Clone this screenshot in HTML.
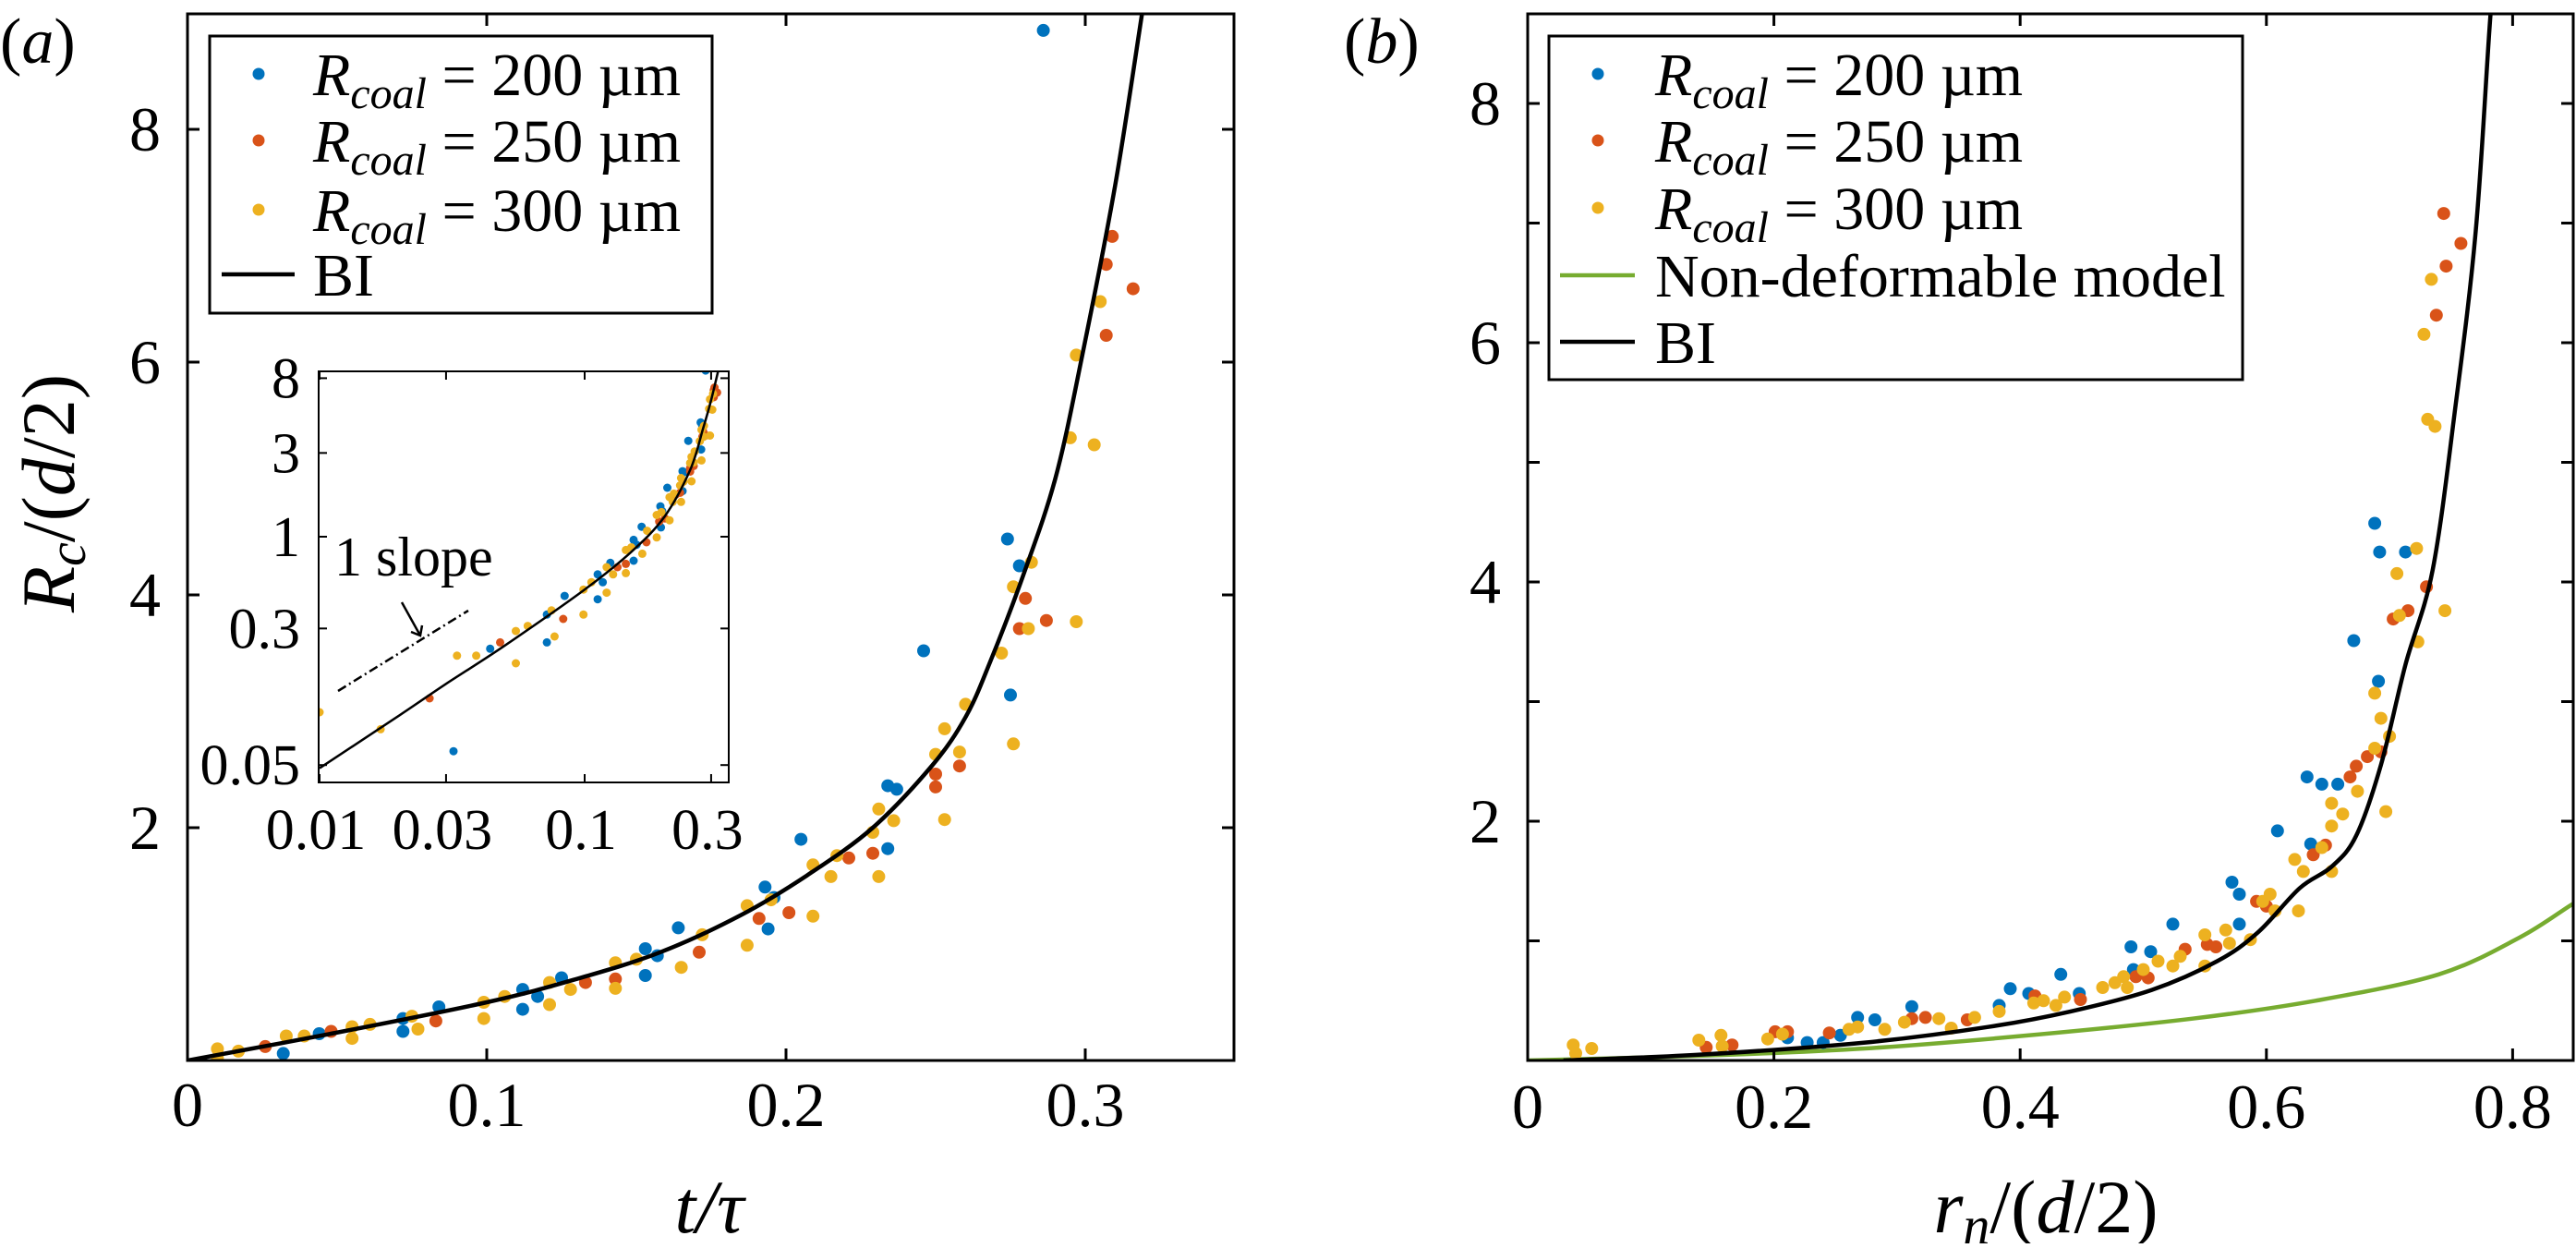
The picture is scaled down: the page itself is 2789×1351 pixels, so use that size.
<!DOCTYPE html>
<html><head><meta charset="utf-8">
<style>
html,body{margin:0;padding:0;background:#fff;}
svg, svg text{font-family:"Liberation Serif","DejaVu Serif",serif;}
</style></head>
<body>
<svg id="fig" width="2789" height="1346" viewBox="0 0 2789 1346" font-family="Liberation Serif, DejaVu Serif, serif" xmlns="http://www.w3.org/2000/svg">
<defs>
<clipPath id="clipA"><rect x="203" y="15" width="1133" height="1133"/></clipPath>
<clipPath id="clipI"><rect x="345" y="402" width="444" height="445"/></clipPath>
<clipPath id="clipB"><rect x="1654" y="15" width="1132" height="1133"/></clipPath>
</defs>
<g id="gA"></g>
<g id="gB"></g>
</svg>
<script>
// ---------- Panel (a) data: t/tau vs Rc/(d/2) ----------
const aBlueX = [0.032,0.044,0.072,0.072,0.084,0.112,0.112,0.117,0.125,0.153,0.153,0.157,0.164,0.193,0.194,0.196,0.205,0.234,0.237,0.234,0.246,0.274,0.275,0.278,0.286];
const aBlueY = [0.06,0.23,0.25,0.36,0.46,0.61,0.44,0.55,0.71,0.96,0.73,0.90,1.14,1.49,1.13,1.40,1.90,2.36,2.33,1.82,3.52,4.48,3.14,4.25,8.85];
const aRedX = [0.026,0.048,0.083,0.133,0.143,0.171,0.191,0.201,0.221,0.229,0.250,0.250,0.258,0.280,0.278,0.287,0.309,0.307,0.316,0.307];
const aRedY = [0.12,0.25,0.34,0.67,0.70,0.93,1.22,1.27,1.74,1.78,2.46,2.35,2.53,3.97,3.71,3.78,7.08,6.84,6.63,6.23];
const aYelX = [0.010,0.010,0.017,0.033,0.039,0.055,0.055,0.061,0.075,0.077,0.099,0.099,0.106,0.121,0.121,0.128,0.143,0.143,0.150,0.165,0.172,0.187,0.187,0.195,0.209,0.209,0.215,0.217,0.229,0.231,0.231,0.236,0.250,0.253,0.253,0.258,0.260,0.272,0.276,0.276,0.281,0.282,0.297,0.305,0.297,0.295,0.303];
const aYelY = [0.10,0.02,0.08,0.21,0.21,0.19,0.29,0.31,0.38,0.27,0.50,0.36,0.55,0.67,0.48,0.61,0.84,0.62,0.87,0.80,1.08,1.33,0.99,1.38,1.68,1.24,1.58,1.76,1.96,2.16,1.58,2.06,2.63,2.85,2.07,2.65,3.06,3.50,2.72,4.07,3.71,4.28,3.77,6.52,6.06,5.35,5.29];
const aBIX = [0,0.048,0.1,0.13,0.158,0.185,0.207,0.229,0.249,0.26,0.268,0.279,0.29,0.299,0.31,0.319];
const aBIY = [0,0.23,0.50,0.70,0.93,1.25,1.59,2.0,2.54,2.95,3.41,4.15,5.0,6.06,7.52,9.0];
const insBIX = [0.01,0.02,0.03,0.05,0.1,0.15,0.2,0.25,0.28,0.3,0.32];
const insBIY = [0.048,0.096,0.145,0.24,0.5,0.82,1.3,2.4,4.15,6.0,9.0];
const aXTicks = [0,0.1,0.2,0.3];
const aXTickLabels = ["0","0.1","0.2","0.3"];
const aYTicks = [2,4,6,8];
const aYTickLabels = ["2","4","6","8"];
const insXTicks = [0.01,0.03,0.1,0.3];
const insXTickLabels = ["0.01","0.03","0.1","0.3"];
const insYTicks = [0.05,0.3,1,3,8];
const insYTickLabels = ["0.05","0.3","1","3","8"];
// ---------- Panel (b) data: rn/(d/2) vs Rc/(d/2) ----------
const bBlueX = [0.211,0.227,0.240,0.254,0.268,0.282,0.312,0.383,0.392,0.407,0.433,0.448,0.490,0.492,0.506,0.524,0.572,0.578,0.578,0.609,0.633,0.645,0.658,0.636,0.671,0.691,0.688,0.692,0.713];
const bBlueY = [0.19,0.15,0.15,0.21,0.36,0.34,0.45,0.46,0.60,0.56,0.72,0.56,0.95,0.76,0.91,1.14,1.49,1.39,1.14,1.92,2.37,2.31,2.31,1.81,3.51,3.17,4.49,4.25,4.25];
const bRedX = [0.145,0.166,0.201,0.211,0.245,0.312,0.323,0.357,0.412,0.449,0.494,0.504,0.534,0.552,0.559,0.592,0.600,0.638,0.648,0.668,0.673,0.682,0.693,0.703,0.715,0.730,0.744,0.758,0.746,0.738];
const bRedY = [0.11,0.13,0.24,0.24,0.23,0.35,0.36,0.34,0.54,0.51,0.70,0.69,0.93,0.97,0.95,1.33,1.29,1.72,1.80,2.37,2.46,2.54,2.58,3.69,3.76,3.96,7.08,6.83,6.64,6.23];
const bYelX = [0.037,0.039,0.052,0.139,0.157,0.158,0.195,0.207,0.261,0.268,0.290,0.306,0.334,0.344,0.363,0.383,0.411,0.419,0.429,0.436,0.467,0.477,0.484,0.487,0.500,0.512,0.524,0.530,0.550,0.550,0.567,0.570,0.587,0.597,0.603,0.607,0.626,0.623,0.630,0.645,0.653,0.653,0.662,0.653,0.674,0.688,0.693,0.688,0.700,0.697,0.706,0.708,0.723,0.745,0.734,0.728,0.731,0.737,0.722];
const bYelY = [0.13,0.06,0.10,0.17,0.21,0.12,0.18,0.22,0.26,0.28,0.26,0.32,0.35,0.27,0.36,0.41,0.48,0.50,0.46,0.53,0.61,0.65,0.70,0.61,0.76,0.83,0.79,0.87,1.05,0.79,1.09,0.98,1.01,1.33,1.39,1.25,1.25,1.68,1.58,1.78,1.96,1.58,2.06,2.15,2.25,2.61,2.86,3.07,2.71,2.08,4.07,3.72,3.50,3.76,6.53,6.07,5.36,5.30,4.28];
const bBIX = [0.029,0.142,0.274,0.374,0.441,0.507,0.560,0.593,0.627,0.653,0.673,0.693,0.713,0.735,0.753,0.770,0.782,0.79];
const bBIY = [0,0.05,0.15,0.28,0.41,0.59,0.83,1.07,1.44,1.62,1.88,2.47,3.31,4.1,5.42,6.93,8.74,9.6];
const bNDX = [0,0.142,0.274,0.407,0.540,0.640,0.740,0.806,0.849,0.86];
const bNDY = [0,0.04,0.10,0.21,0.35,0.50,0.72,1.03,1.31,1.36];
const bXTicks = [0,0.2,0.4,0.6,0.8];
const bXTickLabels = ["0","0.2","0.4","0.6","0.8"];
const bYTicks = [1,2,3,4,5,6,7,8];
const bYTickLabels = ["","2","","4","","6","","8"];

const NS = "http://www.w3.org/2000/svg";
const FONT = '"Liberation Serif","DejaVu Serif",serif';
const C = {blue:"#0072BD", red:"#D95319", yel:"#EDB120", green:"#77AC30"};
function mk(parent, tag, attrs, text){
  const e = document.createElementNS(NS, tag);
  for (const k in attrs) e.setAttribute(k, attrs[k]);
  if (tag==='text') e.style.fontFamily = FONT;
  if (text !== undefined) e.textContent = text;
  parent.appendChild(e);
  return e;
}
const axA = {x:v=>203+v*3240, y:v=>1148-v*126};
const axI = {x:v=>633+Math.log10(v/0.1)*287, y:v=>581-Math.log10(v)*190};
const axB = {x:v=>1654+v*1333, y:v=>1148-v*129.5};

function scatter(g, ax, xs, ys, color, r, name){
  for (let i=0;i<xs.length;i++){
    if (ax===axI && (xs[i]<=0 || ys[i]<=0)) continue;
    const c = mk(g,'circle',{cx:ax.x(xs[i]).toFixed(1), cy:ax.y(ys[i]).toFixed(1), r:r, fill:color});
    
    
  }
}
function line(g, ax, xs, ys, color, w, name){
  const P=[];
  for (let i=0;i<xs.length;i++){
    if (ax===axI && (xs[i]<=0 || ys[i]<=0)) continue;
    P.push([ax.x(xs[i]), ax.y(ys[i])]);
  }
  let d = 'M'+P[0][0].toFixed(1)+','+P[0][1].toFixed(1);
  for (let i=0;i<P.length-1;i++){
    const p0=P[Math.max(i-1,0)], p1=P[i], p2=P[i+1], p3=P[Math.min(i+2,P.length-1)];
    const c1=[p1[0]+(p2[0]-p0[0])/6, p1[1]+(p2[1]-p0[1])/6];
    const c2=[p2[0]-(p3[0]-p1[0])/6, p2[1]-(p3[1]-p1[1])/6];
    d += 'C'+c1[0].toFixed(1)+','+c1[1].toFixed(1)+' '+c2[0].toFixed(1)+','+c2[1].toFixed(1)+' '+p2[0].toFixed(1)+','+p2[1].toFixed(1);
  }
  const p = mk(g,'path',{d:d, fill:'none', stroke:color, 'stroke-width':w, 'stroke-linejoin':'round'});
  
  
}

// ================= Panel A =================
const gA = document.getElementById('gA');
const plotA = mk(gA,'g',{'clip-path':'url(#clipA)'});


scatter(plotA, axA, aBlueX, aBlueY, C.blue, 7, 'point-a-200');
scatter(plotA, axA, aRedX, aRedY, C.red, 7, 'point-a-250');
scatter(plotA, axA, aYelX, aYelY, C.yel, 7, 'point-a-300');
line(plotA, axA, aBIX, aBIY, '#000', 4.5, 'bi-curve-a');
const frA = mk(gA,'rect',{x:203,y:15,width:1133,height:1133,fill:'none',stroke:'#000','stroke-width':3});


aXTicks.forEach((v,i)=>{
  const x = axA.x(v);
  mk(gA,'line',{x1:x,y1:1148,x2:x,y2:1135,stroke:'#000','stroke-width':3});
  mk(gA,'line',{x1:x,y1:15,x2:x,y2:28,stroke:'#000','stroke-width':3});
  const t = mk(gA,'text',{x:x,y:1219,'font-size':68,'text-anchor':'middle'}, aXTickLabels[i]);
  
  
});
aYTicks.forEach((v,i)=>{
  const y = axA.y(v);
  mk(gA,'line',{x1:203,y1:y,x2:216,y2:y,stroke:'#000','stroke-width':3});
  mk(gA,'line',{x1:1336,y1:y,x2:1323,y2:y,stroke:'#000','stroke-width':3});
  const t = mk(gA,'text',{x:174,y:y+23,'font-size':68,'text-anchor':'end'}, aYTickLabels[i]);
  
  
});
// inset
const gI = mk(gA,'g',{});


mk(gI,'rect',{x:345,y:402,width:444,height:445,fill:'#fff'});
const plotI = mk(gI,'g',{'clip-path':'url(#clipI)'});
scatter(plotI, axI, aBlueX, aBlueY, C.blue, 4.5, 'inset-point-200');
scatter(plotI, axI, aRedX, aRedY, C.red, 4.5, 'inset-point-250');
scatter(plotI, axI, aYelX, aYelY, C.yel, 4.5, 'inset-point-300');
line(plotI, axI, insBIX, insBIY, '#000', 2.5, 'inset-bi-curve');
mk(gI,'rect',{x:345,y:402,width:444,height:445,fill:'none',stroke:'#000','stroke-width':2});
insXTicks.forEach((v,i)=>{
  const x = axI.x(v);
  mk(gI,'line',{x1:x,y1:847,x2:x,y2:838,stroke:'#000','stroke-width':2});
  mk(gI,'line',{x1:x,y1:402,x2:x,y2:411,stroke:'#000','stroke-width':2});
  const t = mk(gI,'text',{x:x-4,y:919,'font-size':62,'text-anchor':'middle'}, insXTickLabels[i]);
  
  
});
insYTicks.forEach((v,i)=>{
  const y = axI.y(v);
  mk(gI,'line',{x1:345,y1:y,x2:354,y2:y,stroke:'#000','stroke-width':2});
  mk(gI,'line',{x1:789,y1:y,x2:780,y2:y,stroke:'#000','stroke-width':2});
  const t = mk(gI,'text',{x:325,y:Math.min(y+21,890),'font-size':62,'text-anchor':'end'}, insYTickLabels[i]);
  
  
});
const sl = mk(gI,'line',{x1:366,y1:748,x2:507,y2:661,stroke:'#000','stroke-width':2.5,'stroke-dasharray':'10,4,2,4'});


const ar = mk(gI,'path',{d:'M435,652 L455,688 M445,684 L455,688 L457,677',fill:'none',stroke:'#000','stroke-width':2.5});


const slt = mk(gI,'text',{x:362,y:623,'font-size':60}, '1 slope');



function legend(g, x, y, w, h, textX, markX, entries, name){
  const lg = mk(g,'g',{});
  
  
  mk(lg,'rect',{x:x,y:y,width:w,height:h,fill:'#fff',stroke:'#000','stroke-width':3});
  entries.forEach(en=>{
    const eg = mk(lg,'g',{});
    
    
    if (en.type==='dot') mk(eg,'circle',{cx:markX,cy:en.cy,r:6.5,fill:en.color});
    else mk(eg,'line',{x1:en.lx1,y1:en.cy,x2:en.lx2,y2:en.cy,stroke:en.color,'stroke-width':4.5});
    const t = mk(eg,'text',{x:textX,y:en.cy+23,'font-size':66});
    if (en.val){
      mk(t,'tspan',{'font-style':'italic'},'R');
      mk(t,'tspan',{'font-style':'italic','font-size':48,dy:14},'coal');
      mk(t,'tspan',{dy:-14},' = '+en.val+' \u00b5m');
    } else t.textContent = en.label;
  });
}
legend(gA, 227, 39, 544, 300, 339, 280, [
  {type:'dot',color:C.blue,cy:80,val:'200',name:'legend-entry-200'},
  {type:'dot',color:C.red,cy:152,val:'250',name:'legend-entry-250'},
  {type:'dot',color:C.yel,cy:227,val:'300',name:'legend-entry-300'},
  {type:'line',color:'#000',cy:297,lx1:240,lx2:319,label:'BI',name:'legend-entry-bi'}
], 'legend-a');
let t;
t = mk(gA,'text',{x:0,y:68,'font-size':70}); mk(t,'tspan',{},'('); mk(t,'tspan',{'font-style':'italic'},'a'); mk(t,'tspan',{},')');
 
t = mk(gA,'text',{x:768,y:1334,'font-size':82,'font-style':'italic','text-anchor':'middle'},'t/\u03c4');
 
t = mk(gA,'text',{x:0,y:0,'font-size':82,'text-anchor':'middle',transform:'translate(80,534) rotate(-90)'});
mk(t,'tspan',{'font-style':'italic'},'R'); mk(t,'tspan',{'font-style':'italic','font-size':58,dy:12},'c'); mk(t,'tspan',{dy:-12},'/('); mk(t,'tspan',{'font-style':'italic'},'d'); mk(t,'tspan',{},'/2)');
 

// ================= Panel B =================
const gB = document.getElementById('gB');
const plotB = mk(gB,'g',{'clip-path':'url(#clipB)'});


line(plotB, axB, bNDX, bNDY, C.green, 4.5, 'non-deformable-curve');
scatter(plotB, axB, bBlueX, bBlueY, C.blue, 7, 'point-b-200');
scatter(plotB, axB, bRedX, bRedY, C.red, 7, 'point-b-250');
scatter(plotB, axB, bYelX, bYelY, C.yel, 7, 'point-b-300');
line(plotB, axB, bBIX, bBIY, '#000', 4.5, 'bi-curve-b');
const frB = mk(gB,'rect',{x:1654,y:15,width:1132,height:1133,fill:'none',stroke:'#000','stroke-width':3});


bXTicks.forEach((v,i)=>{
  const x = axB.x(v);
  mk(gB,'line',{x1:x,y1:1148,x2:x,y2:1135,stroke:'#000','stroke-width':3});
  mk(gB,'line',{x1:x,y1:15,x2:x,y2:28,stroke:'#000','stroke-width':3});
  const tt = mk(gB,'text',{x:x,y:1221,'font-size':68,'text-anchor':'middle'}, bXTickLabels[i]);
  
  
});
bYTicks.forEach((v,i)=>{
  const y = axB.y(v);
  mk(gB,'line',{x1:1654,y1:y,x2:1667,y2:y,stroke:'#000','stroke-width':3});
  mk(gB,'line',{x1:2786,y1:y,x2:2773,y2:y,stroke:'#000','stroke-width':3});
  if (bYTickLabels[i]){
    const tt = mk(gB,'text',{x:1625,y:y+23,'font-size':68,'text-anchor':'end'}, bYTickLabels[i]);
    
    
  }
});
legend(gB, 1677, 39, 751, 372, 1792, 1730, [
  {type:'dot',color:C.blue,cy:80,val:'200',name:'legend-entry-200'},
  {type:'dot',color:C.red,cy:152,val:'250',name:'legend-entry-250'},
  {type:'dot',color:C.yel,cy:225,val:'300',name:'legend-entry-300'},
  {type:'line',color:C.green,cy:298,lx1:1689,lx2:1770,label:'Non-deformable model',name:'legend-entry-non-deformable'},
  {type:'line',color:'#000',cy:370,lx1:1689,lx2:1770,label:'BI',name:'legend-entry-bi'}
], 'legend-b');
t = mk(gB,'text',{x:1455,y:68,'font-size':70}); mk(t,'tspan',{},'('); mk(t,'tspan',{'font-style':'italic'},'b'); mk(t,'tspan',{},')');
 
t = mk(gB,'text',{x:2215,y:1334,'font-size':82,'text-anchor':'middle'});
mk(t,'tspan',{'font-style':'italic'},'r'); mk(t,'tspan',{'font-style':'italic','font-size':58,dy:12},'n'); mk(t,'tspan',{dy:-12},'/('); mk(t,'tspan',{'font-style':'italic'},'d'); mk(t,'tspan',{},'/2)');
 
</script>
</body></html>
